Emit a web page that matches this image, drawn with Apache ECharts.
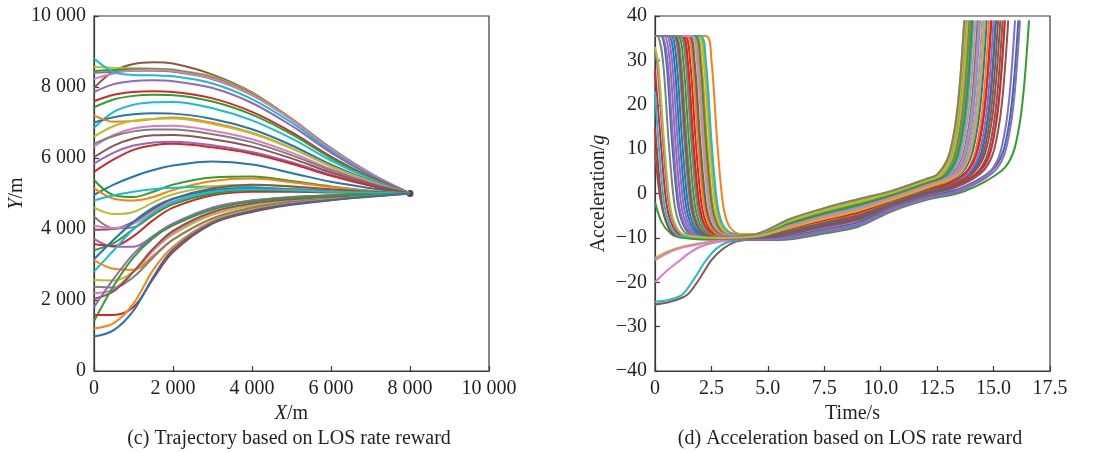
<!DOCTYPE html>
<html>
<head>
<meta charset="utf-8">
<script src="https://cdn.jsdelivr.net/npm/echarts@6/dist/echarts.min.js"></script>
<style>
html,body{margin:0;padding:0;background:#fff;}
#chart{width:1100px;height:453px;}
</style>
</head>
<body>
<div id="chart"></div>
<script>
// ---------- Left panel: trajectories (X/m sample positions shared by all curves) ----------
const trajX = [0, 500, 1000, 1500, 2000, 3000, 4000, 5000, 6000, 7000, 8000];

// trajectories arriving from above (Y/m at each trajX)
const upperTrajectories = [
  [7980, 8450, 8650, 8700, 8660, 8350, 7850, 7100, 6280, 5570, 5000],
  [8560, 8540, 8530, 8520, 8490, 8290, 7830, 7120, 6270, 5570, 5000],
  [8450, 8480, 8500, 8500, 8470, 8260, 7800, 7100, 6260, 5560, 5000],
  [8400, 8430, 8460, 8460, 8430, 8220, 7770, 7080, 6250, 5560, 5000],
  [8230, 8380, 8470, 8480, 8450, 8240, 7780, 7090, 6250, 5560, 5000],
  [8800, 8420, 8340, 8330, 8300, 8100, 7660, 7000, 6200, 5530, 5000],
  [7860, 8080, 8170, 8190, 8160, 7970, 7550, 6910, 6150, 5510, 5000],
  [7600, 7780, 7860, 7880, 7860, 7680, 7300, 6730, 6040, 5460, 5000],
  [7430, 7650, 7750, 7780, 7770, 7590, 7220, 6670, 6000, 5440, 5000],
  [6850, 7300, 7500, 7570, 7580, 7400, 7060, 6550, 5930, 5410, 5000],
  [7000, 7150, 7230, 7260, 7250, 7100, 6810, 6360, 5810, 5360, 5000],
  [7200, 7020, 7040, 7100, 7140, 6990, 6710, 6280, 5770, 5340, 5000],
  [6600, 6900, 7050, 7100, 7110, 6960, 6690, 6270, 5760, 5340, 5000],
  [6320, 6650, 6830, 6900, 6910, 6770, 6530, 6150, 5690, 5310, 5000],
  [6400, 6620, 6750, 6800, 6800, 6670, 6440, 6080, 5650, 5290, 5000],
  [6020, 6350, 6550, 6640, 6650, 6530, 6320, 5990, 5590, 5260, 5000],
  [5840, 6150, 6350, 6440, 6460, 6360, 6170, 5880, 5530, 5230, 5000],
  [5610, 5960, 6230, 6360, 6400, 6300, 6120, 5840, 5500, 5220, 5000],
  [4960, 5250, 5480, 5660, 5790, 5900, 5820, 5580, 5330, 5150, 5000]
];
// trajectories arriving near the target level or from below
const lowerTrajectories = [
  [5380, 4950, 4900, 5050, 5250, 5450, 5480, 5350, 5200, 5080, 5000],
  [5150, 4850, 4800, 4900, 5100, 5350, 5420, 5320, 5180, 5070, 5000],
  [4800, 4950, 5050, 5120, 5160, 5200, 5180, 5120, 5060, 5020, 5000],
  [4600, 4420, 4480, 4750, 4980, 5200, 5250, 5200, 5110, 5040, 5000],
  [4350, 4020, 4050, 4400, 4700, 5050, 5150, 5130, 5080, 5030, 5000],
  [3980, 4000, 4200, 4550, 4850, 5150, 5250, 5200, 5120, 5050, 5000],
  [4100, 4020, 4150, 4500, 4780, 5050, 5100, 5080, 5050, 5020, 5000],
  [3720, 3500, 3500, 3800, 4150, 4600, 4800, 4900, 4950, 4980, 5000],
  [3580, 3520, 3800, 4250, 4600, 4950, 5050, 5050, 5030, 5010, 5000],
  [3400, 3600, 4000, 4400, 4700, 5000, 5100, 5080, 5040, 5020, 5000],
  [3150, 3700, 4200, 4600, 4850, 5100, 5150, 5100, 5050, 5020, 5000],
  [2800, 3400, 4000, 4450, 4750, 5050, 5120, 5100, 5050, 5020, 5000],
  [3120, 2880, 2850, 3250, 3700, 4300, 4600, 4780, 4880, 4950, 5000],
  [2560, 2550, 2800, 3400, 3850, 4400, 4650, 4800, 4890, 4950, 5000],
  [2370, 2350, 2650, 3200, 3700, 4300, 4600, 4770, 4870, 4940, 5000],
  [2190, 2300, 2800, 3400, 3900, 4450, 4700, 4820, 4900, 4950, 5000],
  [2030, 2250, 2800, 3450, 3950, 4480, 4720, 4840, 4910, 4960, 5000],
  [1800, 2600, 3300, 3800, 4150, 4600, 4800, 4900, 4950, 4980, 5000],
  [1400, 2400, 3200, 3750, 4100, 4550, 4770, 4880, 4940, 4975, 5000],
  [1580, 1580, 1800, 2600, 3350, 4150, 4480, 4680, 4810, 4910, 5000],
  [1200, 1350, 1900, 2850, 3500, 4230, 4540, 4720, 4840, 4930, 5000],
  [970, 1150, 1700, 2650, 3420, 4180, 4510, 4700, 4820, 4920, 5000]
];
const targetPoint = [8000, 5000];

// ---------- Right panel: acceleration curves, [Time/s, Acceleration/g] ----------
const accelCurvesA = [
  [[0,35.5],[0.25,35.5],[0.5,30],[0.75,12],[1.0,-2],[1.25,-7],[1.65,-9.3],[3,-10],[4.5,-9.5],[6,-6.9],[7.5,-4.8],[9,-3.0],[10.5,-0.6],[12,2.0],[12.8,3.6],[13.3,7.6],[13.6,14.6],[13.8,23.6],[14.0,39]],
  [[0,35.5],[2.25,35.5],[2.5,30],[2.75,12],[3.0,-2],[3.25,-7],[3.65,-9],[4.5,-9.8],[6,-7.9],[7.5,-6.0],[9,-4.3],[10.5,-1.6],[12,1.0],[13.1,3.2],[13.6,7.2],[13.9,14.2],[14.1,23.2],[14.3,39]],
  [[0,-2],[0.3,-6.5],[0.7,-9],[1.2,-10],[3,-10.5],[4.5,-10.5],[6,-10.3],[7.5,-9],[9,-7.5],[10.5,-4],[12,-1.5],[13.7,0.5],[15.37,5.2],[15.87,9.2],[16.17,16.2],[16.37,25.2],[16.57,39]],
  [[0,15],[0.3,-2],[0.55,-7],[0.95,-9.5],[3,-10],[4.5,-9.9],[6,-8.4],[7.5,-6.6],[9,-4.9],[10.5,-2.1],[12,0.5],[12.95,1.6],[13.9,4.3],[14.4,8.3],[14.7,15.3],[14.9,24.3],[15.1,39]],
  [[0,35.5],[0.5,35.5],[0.75,30],[1.0,12],[1.25,-2],[1.5,-7],[1.9,-9.3],[3,-10],[4.5,-9.6],[6,-7.4],[7.5,-5.4],[9,-3.6],[10.5,-1.1],[12,1.5],[13.4,4.3],[13.9,8.3],[14.2,15.3],[14.4,24.3],[14.6,39]],
  [[0,-25],[0.6,-24.5],[1.2,-23.5],[1.5,-22.5],[2,-19],[2.5,-15],[3,-12.5],[3.5,-11],[4,-10.5],[4.5,-10.1],[6,-8.9],[7.5,-7.2],[9,-5.6],[10.5,-2.6],[12,0],[13.1,1.3],[14.2,4.4],[14.7,8.4],[15.0,15.4],[15.2,24.4],[15.4,39]],
  [[0,-20],[0.5,-17.5],[1,-15.5],[1.5,-13.5],[2,-12],[2.7,-11],[3.5,-10.5],[4.5,-10.2],[6,-9.3],[7.5,-7.8],[9,-6.2],[10.5,-3.0],[12,-0.5],[13.15,0.9],[14.3,4.1],[14.8,8.1],[15.1,15.1],[15.3,24.1],[15.5,39]],
  [[0,35.5],[0.8,35.5],[1.05,30],[1.3,12],[1.55,-2],[1.8,-7],[2.2,-9.3],[3,-9.8],[4.5,-9.2],[6,-6.0],[7.5,-3.6],[9,-1.7],[10.5,0.3],[12,3.0],[12.6,4.2],[13.1,8.2],[13.4,15.2],[13.6,24.2],[13.8,39]],
  [[0,-14.5],[0.6,-13],[1.2,-12],[2,-11.2],[3,-10.6],[4.5,-9.5],[6,-7.2],[7.5,-5.1],[9,-3.3],[10.5,-0.9],[12,1.75],[12.9,3.6],[13.4,7.6],[13.7,14.6],[13.9,23.6],[14.1,39]],
  [[0,-24.4],[0.6,-24],[1.2,-22.8],[1.7,-19.5],[2.2,-15.5],[2.7,-12.5],[3.2,-11],[3.8,-10.5],[4.5,-9.7],[6,-7.7],[7.5,-5.7],[9,-3.9],[10.5,-1.4],[12,1.25],[13.2,3.7],[13.7,7.7],[14.0,14.7],[14.2,23.7],[14.4,39]],
  [[0,35.5],[0.6,35.5],[0.85,30],[1.1,12],[1.35,-2],[1.6,-7],[2.0,-9.3],[3,-10],[4.5,-10.3],[6,-9.6],[7.5,-8.1],[9,-6.5],[10.5,-3.3],[12,-0.75],[13.45,1.0],[14.9,5.1],[15.4,9.1],[15.7,16.1],[15.9,25.1],[16.1,39]],
  [[0,35.5],[1.8,35.5],[2.05,30],[2.3,12],[2.55,-2],[2.8,-7],[3.2,-9],[4.5,-9.1],[6,-5.7],[7.5,-3.3],[9,-1.3],[10.5,0.6],[12,3.25],[12.5,4.3],[13.0,8.3],[13.3,15.3],[13.5,24.3],[13.7,39]],
  [[0,35.5],[1.15,35.5],[1.4,30],[1.65,12],[1.9,-2],[2.15,-7],[2.55,-9.3],[3.2,-9.8],[4.5,-9.3],[6,-6.5],[7.5,-4.2],[9,-2.3],[10.5,-0.2],[12,2.5],[12.7,3.9],[13.2,7.9],[13.5,14.9],[13.7,23.9],[13.9,39]],
  [[0,28],[0.25,12],[0.5,-2],[0.75,-7],[1.15,-9.4],[3,-10],[4.5,-9.8],[6,-8.1],[7.5,-6.3],[9,-4.6],[10.5,-1.8],[12,0.75],[12.85,1.8],[13.7,4.2],[14.2,8.2],[14.5,15.2],[14.7,24.2],[14.9,39]],
  [[0,32],[0.1,29],[0.35,12],[0.6,-2],[0.85,-7],[1.25,-9.3],[3,-10.2],[4.5,-10.4],[6,-9.8],[7.5,-8.4],[9,-6.9],[10.5,-3.5],[12,-1.0],[13.4,0.65],[14.75,4.5],[15.25,8.5],[15.55,15.5],[15.75,24.5],[15.95,39]],
  [[0,10],[0.2,0],[0.5,-6.5],[0.9,-9.5],[3,-10],[4.5,-10.0],[6,-8.6],[7.5,-6.9],[9,-5.2],[10.5,-2.3],[12,0.25],[13.0,1.45],[14.0,4.25],[14.5,8.25],[14.8,15.25],[15.0,24.25],[15.2,39]],
  [[0,-15],[0.6,-13.3],[1.2,-12.2],[2,-11.3],[3,-10.6],[4.5,-9.5],[6,-6.9],[7.5,-4.8],[9,-3.0],[10.5,-0.6],[12,2.0],[13.0,4],[13.5,8],[13.8,15],[14.0,24],[14.2,39]],
  [[0,35.5],[0.1,35.5],[0.35,30],[0.6,12],[0.85,-2],[1.1,-7],[1.5,-9.3],[3,-10],[4.5,-9.2],[6,-6.2],[7.5,-3.9],[9,-2.0],[10.5,0.1],[12,2.75],[12.6,4],[13.1,8],[13.4,15],[13.6,24],[13.8,39]],
  [[0,35.5],[1.6,35.5],[1.85,30],[2.1,12],[2.35,-2],[2.6,-7],[3.0,-9.2],[4.5,-9.2],[6,-6.0],[7.5,-3.6],[9,-1.7],[10.5,0.3],[12,3.0],[12.55,4.1],[13.05,8.1],[13.35,15.1],[13.55,24.1],[13.75,39]],
  [[0,23],[0.15,12],[0.4,-2],[0.65,-7],[1.05,-9.5],[3,-10],[4.5,-9.8],[6,-7.9],[7.5,-6.0],[9,-4.3],[10.5,-1.6],[12,1.0],[13.4,3.8],[13.9,7.8],[14.2,14.8],[14.4,23.8],[14.6,39]]
];
const accelCurvesB = [
  [[0,35.5],[1.5,35.5],[1.75,30],[2.0,12],[2.25,-2],[2.5,-7],[2.9,-9.3],[3.5,-9.8],[4.5,-9.7],[6,-7.7],[7.5,-5.7],[9,-3.9],[10.5,-1.4],[12,1.25],[13.5,4.25],[14.0,8.25],[14.3,15.25],[14.5,24.25],[14.7,39]],
  [[0,35.5],[1.95,35.5],[2.2,30],[2.45,12],[2.7,-2],[2.95,-7],[3.35,-9],[4.5,-9.4],[6,-6.7],[7.5,-4.5],[9,-2.6],[10.5,-0.4],[12,2.25],[12.8,3.85],[13.3,7.85],[13.6,14.85],[13.8,23.85],[14.0,39]],
  [[0,35.5],[1.0,35.5],[1.25,30],[1.5,12],[1.75,-2],[2.0,-7],[2.4,-9.3],[3.2,-10],[4.5,-9.5],[6,-7.2],[7.5,-5.1],[9,-3.3],[10.5,-0.9],[12,1.75],[13.1,3.95],[13.6,7.95],[13.9,14.95],[14.1,23.95],[14.3,39]],
  [[0,35.5],[1.3,35.5],[1.55,30],[1.8,12],[2.05,-2],[2.3,-7],[2.7,-9.3],[3.3,-10],[4.5,-10.1],[6,-8.9],[7.5,-7.2],[9,-5.6],[10.5,-2.6],[12,0],[13.15,1.4],[14.3,4.6],[14.8,8.6],[15.1,15.6],[15.3,24.6],[15.5,39]],
  [[0,35.5],[0.4,35.5],[0.65,30],[0.9,12],[1.15,-2],[1.4,-7],[1.8,-9.3],[3,-10],[4.5,-9.9],[6,-8.4],[7.5,-6.6],[9,-4.9],[10.5,-2.1],[12,0.5],[12.9,1.6],[13.8,4.1],[14.3,8.1],[14.6,15.1],[14.8,24.1],[15.0,39]],
  [[0,35.5],[1.45,35.5],[1.7,30],[1.95,12],[2.2,-2],[2.45,-7],[2.85,-9.3],[3.4,-10],[4.5,-10.1],[6,-9.1],[7.5,-7.5],[9,-5.9],[10.5,-2.8],[12,-0.25],[13.2,1.2],[14.45,4.65],[14.95,8.65],[15.25,15.65],[15.45,24.65],[15.65,39]],
  [[0,35.5],[1.7,35.5],[1.95,30],[2.2,12],[2.45,-2],[2.7,-7],[3.1,-9.2],[4.5,-9.6],[6,-7.4],[7.5,-5.4],[9,-3.6],[10.5,-1.1],[12,1.5],[13.3,4.1],[13.8,8.1],[14.1,15.1],[14.3,24.1],[14.5,39]],
  [[0,35.5],[0.9,35.5],[1.15,30],[1.4,12],[1.65,-2],[1.9,-7],[2.3,-9.3],[3,-9.8],[4.5,-9.3],[6,-6.5],[7.5,-4.2],[9,-2.3],[10.5,-0.2],[12,2.5],[12.75,4],[13.25,8],[13.55,15],[13.75,24],[13.95,39]],
  [[0,35.5],[1.9,35.5],[2.15,30],[2.4,12],[2.65,-2],[2.9,-7],[3.3,-9],[4.5,-9.2],[6,-6.2],[7.5,-3.9],[9,-2.0],[10.5,0.1],[12,2.75],[12.65,4.05],[13.15,8.05],[13.45,15.05],[13.65,24.05],[13.85,39]],
  [[0,35.5],[2.0,35.5],[2.25,30],[2.5,12],[2.75,-2],[3.0,-7],[3.4,-9],[4.5,-9.5],[6,-6.9],[7.5,-4.8],[9,-3.0],[10.5,-0.6],[12,2.0],[12.9,3.8],[13.4,7.8],[13.7,14.8],[13.9,23.8],[14.1,39]],
  [[0,35.5],[0.7,35.5],[0.95,30],[1.2,12],[1.45,-2],[1.7,-7],[2.1,-9.3],[3,-10],[4.5,-10.0],[6,-8.6],[7.5,-6.9],[9,-5.2],[10.5,-2.3],[12,0.25],[12.95,1.4],[13.9,4.05],[14.4,8.05],[14.7,15.05],[14.9,24.05],[15.1,39]],
  [[0,35.5],[1.4,35.5],[1.65,30],[1.9,12],[2.15,-2],[2.4,-7],[2.8,-9.3],[3.4,-9.9],[4.5,-9.8],[6,-8.1],[7.5,-6.3],[9,-4.6],[10.5,-1.8],[12,0.75],[13.6,3.95],[14.1,7.95],[14.4,14.95],[14.6,23.95],[14.8,39]],
  [[0,35.5],[1.75,35.5],[2.0,30],[2.25,12],[2.5,-2],[2.75,-7],[3.15,-9.2],[4.5,-9.4],[6,-6.7],[7.5,-4.5],[9,-2.6],[10.5,-0.4],[12,2.25],[12.85,3.95],[13.35,7.95],[13.65,14.95],[13.85,23.95],[14.05,39]],
  [[0,35.5],[1.2,35.5],[1.45,30],[1.7,12],[1.95,-2],[2.2,-7],[2.6,-9.3],[3.3,-10],[4.5,-9.8],[6,-7.9],[7.5,-6.0],[9,-4.3],[10.5,-1.6],[12,1.0],[12.85,2.0],[13.7,4.4],[14.2,8.4],[14.5,15.4],[14.7,24.4],[14.9,39]],
  [[0,35.5],[0.3,35.5],[0.55,30],[0.8,12],[1.05,-2],[1.3,-7],[1.7,-9.3],[3,-10.2],[4.5,-10.4],[6,-10.1],[7.5,-8.7],[9,-7.2],[10.5,-3.8],[12,-1.25],[13.5,0.55],[14.97,4.7],[15.47,8.7],[15.77,15.7],[15.97,24.7],[16.17,39]],
  [[0,35.5],[0.85,35.5],[1.1,30],[1.35,12],[1.6,-2],[1.85,-7],[2.25,-9.3],[3.1,-10],[4.5,-9.9],[6,-8.4],[7.5,-6.6],[9,-4.9],[10.5,-2.1],[12,0.5],[13.05,1.8],[14.1,4.7],[14.6,8.7],[14.9,15.7],[15.1,24.7],[15.3,39]],
  [[0,35.5],[1.65,35.5],[1.9,30],[2.15,12],[2.4,-2],[2.65,-7],[3.05,-9.2],[4.5,-9.5],[6,-7.2],[7.5,-5.1],[9,-3.3],[10.5,-0.9],[12,1.75],[13.15,4.05],[13.65,8.05],[13.95,15.05],[14.15,24.05],[14.35,39]],
  [[0,35.5],[1.1,35.5],[1.35,30],[1.6,12],[1.85,-2],[2.1,-7],[2.5,-9.3],[3.1,-9.7],[4.5,-9.1],[6,-5.7],[7.5,-3.3],[9,-1.3],[10.5,0.6],[12,3.25],[12.5,4.25],[13.0,8.25],[13.3,15.25],[13.5,24.25],[13.7,39]],
  [[0,33],[0.15,29],[0.4,12],[0.65,-2],[0.9,-7],[1.3,-9.3],[3,-10],[4.5,-9.7],[6,-7.7],[7.5,-5.7],[9,-3.9],[10.5,-1.4],[12,1.25],[13.4,4.05],[13.9,8.05],[14.2,15.05],[14.4,24.05],[14.6,39]]
];

// ---------- Axis ticks / texts ----------
const leftTicks = {min: 0, max: 10000, interval: 2000};
const rightXTicks = {min: 0, max: 17.5, interval: 2.5};
const rightYTicks = {min: -40, max: 40, interval: 10};
const captionLeft = '(c) Trajectory based on LOS rate reward';
const captionRight = '(d) Acceleration based on LOS rate reward';

// ---------- Styles ----------
const TAB = {blue:'#1f77b4', orange:'#ff7f0e', green:'#2ca02c', red:'#d62728', purple:'#9467bd',
             brown:'#8c564b', pink:'#e377c2', gray:'#7f7f7f', olive:'#bcbd22', cyan:'#17becf'};
const tabCycle = ['blue','orange','green','red','purple','brown','pink','gray','olive','cyan'];
const upperColors = ['brown','olive','green','gray','pink','cyan','purple','red','green','cyan','blue','orange','olive','pink','gray','brown','purple','red','blue'];
const lowerColors = ['green','orange','cyan','olive','gray','brown','pink','purple','red','green','blue','cyan','orange','olive','gray','pink','brown','purple','green','red','orange','blue'];

const FONT = '"Liberation Serif", "Times New Roman", serif';
const TXT = '#231f20';
const AX = '#3a3a3a';

function thousands(v) {
  if (v >= 1000) return Math.floor(v / 1000) + ' ' + String(v % 1000).padStart(3, '0');
  return String(v);
}
function minus(v) { return String(v).replace('-', '\u2212'); }

function axisCommon(extra) {
  return Object.assign({
    type: 'value',
    axisLine: {show: true, onZero: false, lineStyle: {color: AX, width: 1.2}},
    axisTick: {show: true, inside: true, length: 5, lineStyle: {color: AX, width: 1.2}},
    splitLine: {show: false},
    axisLabel: {color: TXT, fontFamily: FONT, fontSize: 20, margin: 8},
    nameTextStyle: {color: TXT, fontFamily: FONT, fontSize: 20,
      rich: {i: {fontStyle: 'italic', fontFamily: FONT, fontSize: 20, color: TXT},
             n: {fontFamily: FONT, fontSize: 20, color: TXT}}},
    nameLocation: 'middle'
  }, extra);
}

const series = [];
const lineBase = {type: 'line', showSymbol: false, symbol: 'none', smooth: 0.35,
                  silent: true, animation: false};

upperTrajectories.forEach((ys, k) => {
  series.push(Object.assign({}, lineBase, {
    xAxisIndex: 0, yAxisIndex: 0,
    lineStyle: {width: 2, color: TAB[upperColors[k]]},
    data: trajX.map((x, j) => [x, ys[j]])
  }));
});
lowerTrajectories.forEach((ys, k) => {
  series.push(Object.assign({}, lineBase, {
    xAxisIndex: 0, yAxisIndex: 0,
    lineStyle: {width: 2, color: TAB[lowerColors[k]]},
    data: trajX.map((x, j) => [x, ys[j]])
  }));
});
series.push({type: 'scatter', xAxisIndex: 0, yAxisIndex: 0, symbolSize: 7, silent: true,
  itemStyle: {color: '#1a1a1a'}, data: [targetPoint], animation: false});

accelCurvesA.concat(accelCurvesB).forEach((pts, k) => {
  series.push(Object.assign({}, lineBase, {
    xAxisIndex: 1, yAxisIndex: 1, smooth: 0.3,
    lineStyle: {width: 2, color: TAB[tabCycle[k % 10]]},
    data: pts
  }));
});

const option = {
  backgroundColor: '#ffffff',
  animation: false,
  grid: [
    {left: 94, top: 16, width: 395, height: 355, show: true, borderColor: AX, borderWidth: 1.2, backgroundColor: 'transparent'},
    {left: 655, top: 16, width: 395, height: 355, show: true, borderColor: AX, borderWidth: 1.2, backgroundColor: 'transparent'}
  ],
  xAxis: [
    axisCommon({gridIndex: 0, min: leftTicks.min, max: leftTicks.max, interval: leftTicks.interval,
      name: '{i|X}{n|/m}', nameGap: 30,
      axisLabel: {color: TXT, fontFamily: FONT, fontSize: 20, margin: 8, formatter: thousands}}),
    axisCommon({gridIndex: 1, min: rightXTicks.min, max: rightXTicks.max, interval: rightXTicks.interval,
      name: 'Time/s', nameGap: 30,
      axisLabel: {color: TXT, fontFamily: FONT, fontSize: 20, margin: 8,
        formatter: v => v === 0 ? '0' : v.toFixed(1)}})
  ],
  yAxis: [
    axisCommon({gridIndex: 0, min: leftTicks.min, max: leftTicks.max, interval: leftTicks.interval,
      name: '{i|Y}{n|/m}', nameGap: 66,
      axisLabel: {color: TXT, fontFamily: FONT, fontSize: 20, margin: 8, formatter: thousands}}),
    axisCommon({gridIndex: 1, min: rightYTicks.min, max: rightYTicks.max, interval: rightYTicks.interval,
      name: '{n|Acceleration/}{i|g}', nameGap: 46,
      axisLabel: {color: TXT, fontFamily: FONT, fontSize: 20, margin: 8, formatter: minus}})
  ],
  graphic: [
    {type: 'text', x: 289, y: 439, silent: true,
     style: {text: captionLeft, align: 'center', verticalAlign: 'middle',
             fontFamily: FONT, fontSize: 20, fill: TXT}},
    {type: 'text', x: 850, y: 439, silent: true,
     style: {text: captionRight, align: 'center', verticalAlign: 'middle',
             fontFamily: FONT, fontSize: 20, fill: TXT}}
  ],
  series: series
};

const chart = echarts.init(document.getElementById('chart'), null, {renderer: 'canvas'});
chart.setOption(option);
</script>
</body>
</html>
